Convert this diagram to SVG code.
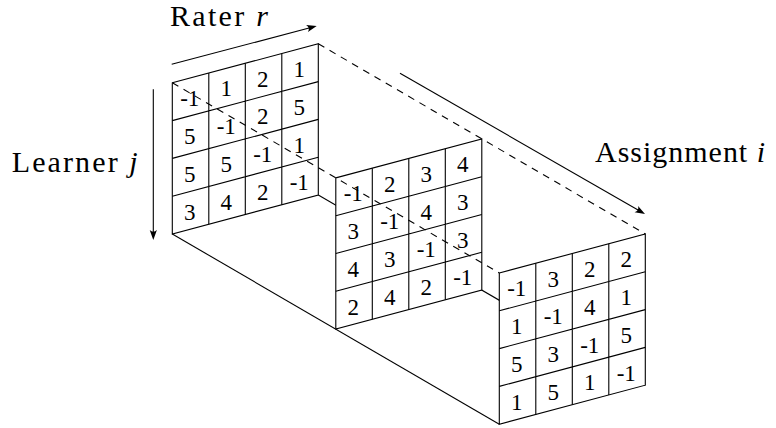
<svg xmlns="http://www.w3.org/2000/svg" width="776" height="428" viewBox="0 0 776 428">
<style>
svg g[id] text, svg g[id] tspan, svg text#label-rater, svg text#label-learner, svg text#label-assignment{font-family:"Liberation Serif","DejaVu Serif",serif !important}
.ln{stroke:#000;stroke-width:1.1;fill:none}
.num{font-size:23px;text-anchor:middle;fill:#000}
</style>
<defs>
<marker id="arr" markerUnits="userSpaceOnUse" markerWidth="14" markerHeight="10" viewBox="-11 -5 12 10" refX="-3" refY="0" orient="auto">
<path d="M0,0 L-10,-3.6 Q-6.5,0 -10,3.6 Z" fill="#000"/>
</marker>
<g id="grid" stroke="#000" stroke-width="1.1">
<polygon points="0,0 146,-39 146,112.2 0,151.2" fill="#fff"/>
<path fill="none" d="M36.5,-9.75V141.45M73,-19.5V131.7M109.5,-29.25V121.95M0,37.8L146,-1.2M0,75.6L146,36.6M0,113.4L146,74.4"/>
</g>
</defs>
<rect width="776" height="428" fill="#fff"/>
<g id="connectors-back">
<path class="ln" d="M172.3,234L499.3,424.2"/>
<path class="ln" d="M318.3,195L645.3,385.2"/>
</g>
<g id="panel1" transform="translate(172.3,82.8)">
<use href="#grid"/>
<g id="p1t" class="num" font-family="Liberation Serif">
<text x="17.5" y="23.4">-1</text><text x="54" y="13.65">1</text><text x="90.5" y="3.9">2</text><text x="127" y="-5.85">1</text>
<text x="17.5" y="61.2">5</text><text x="54" y="51.45">-1</text><text x="90.5" y="41.7">2</text><text x="127" y="31.95">5</text>
<text x="17.5" y="99">5</text><text x="54" y="89.25">5</text><text x="90.5" y="79.5">-1</text><text x="127" y="69.75">1</text>
<text x="17.5" y="136.8">3</text><text x="54" y="127.05">4</text><text x="90.5" y="117.3">2</text><text x="127" y="107.55">-1</text>
</g>
</g>
<g id="panel2" transform="translate(335.8,177.9)">
<use href="#grid"/>
<g id="p2t" class="num" font-family="Liberation Serif">
<text x="17.5" y="23.4">-1</text><text x="54" y="13.65">2</text><text x="90.5" y="3.9">3</text><text x="127" y="-5.85">4</text>
<text x="17.5" y="61.2">3</text><text x="54" y="51.45">-1</text><text x="90.5" y="41.7">4</text><text x="127" y="31.95">3</text>
<text x="17.5" y="99">4</text><text x="54" y="89.25">3</text><text x="90.5" y="79.5">-1</text><text x="127" y="69.75">3</text>
<text x="17.5" y="136.8">2</text><text x="54" y="127.05">4</text><text x="90.5" y="117.3">2</text><text x="127" y="107.55">-1</text>
</g>
</g>
<g id="panel3" transform="translate(499.3,273)">
<use href="#grid"/>
<g id="p3t" class="num" font-family="Liberation Serif">
<text x="17.5" y="23.4">-1</text><text x="54" y="13.65">3</text><text x="90.5" y="3.9">2</text><text x="127" y="-5.85">2</text>
<text x="17.5" y="61.2">1</text><text x="54" y="51.45">-1</text><text x="90.5" y="41.7">4</text><text x="127" y="31.95">1</text>
<text x="17.5" y="99">5</text><text x="54" y="89.25">3</text><text x="90.5" y="79.5">-1</text><text x="127" y="69.75">5</text>
<text x="17.5" y="136.8">1</text><text x="54" y="127.05">5</text><text x="90.5" y="117.3">1</text><text x="127" y="107.55">-1</text>
</g>
</g>
<g id="connectors">
<path class="ln" stroke-dasharray="7 6" d="M172.3,82.8L499.3,273"/>
<path class="ln" stroke-dasharray="7 6" d="M318.3,43.8L645.3,234"/>
<path class="ln" marker-end="url(#arr)" d="M171.7,64.3L313.8,26.77"/>
<path class="ln" marker-end="url(#arr)" d="M153.3,89.3L153.3,237"/>
<path class="ln" marker-end="url(#arr)" d="M400,73.3L642.4,212.5"/>
</g>
<g id="labels" font-family="Liberation Serif" font-size="30" fill="#000">
<text id="label-rater" x="170" y="25.5" textLength="98" lengthAdjust="spacing">Rater <tspan font-style="italic">r</tspan></text>
<text id="label-learner" x="11.7" y="172.3" textLength="126" lengthAdjust="spacing">Learner <tspan font-style="italic">j</tspan></text>
<text id="label-assignment" x="595" y="162.3" textLength="170" lengthAdjust="spacing">Assignment <tspan font-style="italic">i</tspan></text>
</g>
</svg>
